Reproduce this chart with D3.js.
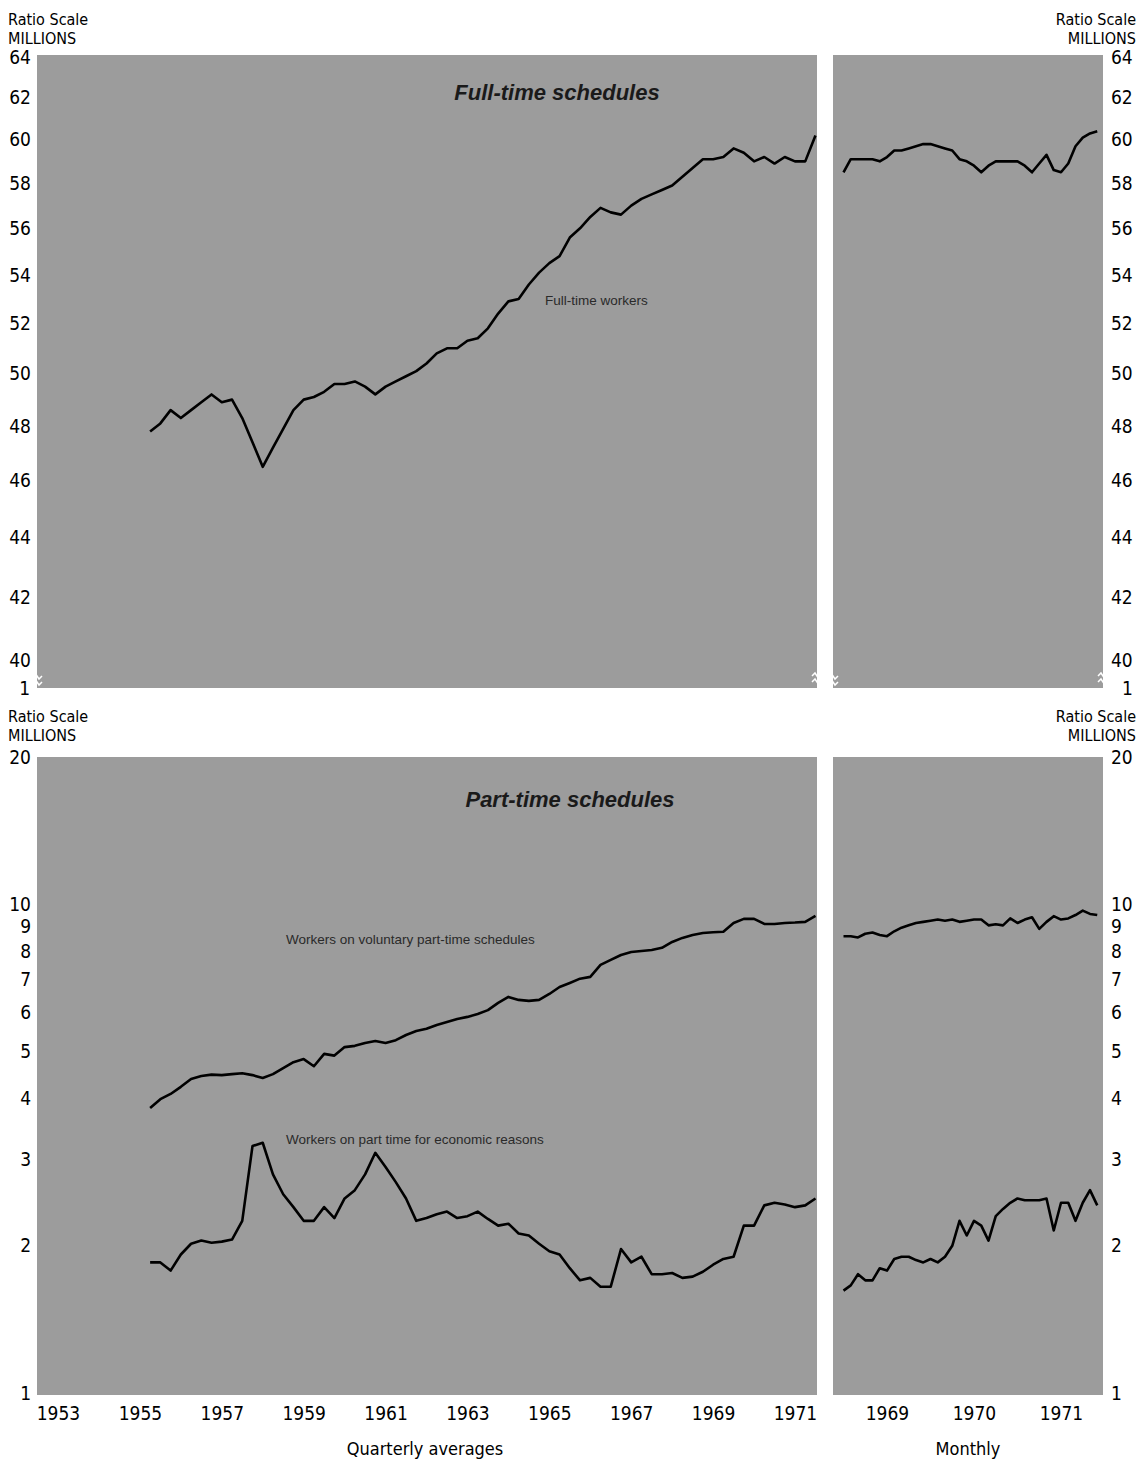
<!DOCTYPE html>
<meta charset="utf-8">
<style>
body { margin: 0; background: #fff; }
svg { display: block; font-family: "Liberation Sans Narrow", "DejaVu Sans Condensed", "Liberation Sans", sans-serif; }
.panel { fill: #9c9c9c; }
.line { fill: none; stroke: #000; stroke-width: 2.6px; stroke-linejoin: round; }
.axis path { display: none; }
.axis text { font-size: 19px; fill: #000; font-family: "Liberation Sans Narrow", "DejaVu Sans Condensed", sans-serif; }
.unit { font-size: 16px; fill: #000; }
.title { font-family: "Liberation Sans", Arial, sans-serif; font-size: 22px; font-weight: bold; font-style: italic; fill: #1a1a1a; }
.serieslabel { font-family: "Liberation Sans", Arial, sans-serif; font-size: 13.5px; fill: #2a2a2a; }
</style>
<svg width="1142" height="1465"></svg>
<script src="https://d3js.org/d3.v7.min.js"></script>
<script>
// quarterly series start 1955 Q2, monthly series start mid 1968
var quarterStart = 1955.25,
    monthStart = 1968.5;

var fullTimeQ = [47.8,48.1,48.6,48.3,48.6,48.9,49.2,48.9,49.0,48.3,
  47.4,46.5,47.2,47.9,48.6,49.0,49.1,49.3,49.6,49.6,
  49.7,49.5,49.2,49.5,49.7,49.9,50.1,50.4,50.8,51.0,
  51.0,51.3,51.4,51.8,52.4,52.9,53.0,53.6,54.1,54.5,
  54.8,55.6,56.0,56.5,56.9,56.7,56.6,57.0,57.3,57.5,
  57.7,57.9,58.3,58.7,59.1,59.1,59.2,59.6,59.4,59.0,
  59.2,58.9,59.2,59.0,59.0,60.2];
var fullTimeM = [58.5,59.1,59.1,59.1,59.1,59.0,59.2,59.5,59.5,59.6,
  59.7,59.8,59.8,59.7,59.6,59.5,59.1,59.0,58.8,58.5,
  58.8,59.0,59.0,59.0,59.0,58.8,58.5,58.9,59.3,58.6,
  58.5,58.9,59.7,60.1,60.3,60.4];
var voluntaryQ = [3.83,3.99,4.09,4.23,4.39,4.45,4.48,4.47,4.49,4.51,
  4.47,4.41,4.49,4.62,4.75,4.82,4.66,4.94,4.90,5.10,
  5.13,5.20,5.25,5.20,5.27,5.40,5.50,5.56,5.66,5.74,
  5.82,5.88,5.96,6.07,6.28,6.46,6.37,6.34,6.37,6.55,
  6.77,6.90,7.04,7.10,7.51,7.69,7.87,7.98,8.02,8.06,
  8.14,8.37,8.53,8.65,8.73,8.76,8.78,9.15,9.33,9.33,
  9.11,9.11,9.15,9.17,9.20,9.46];
var voluntaryM = [8.6,8.6,8.55,8.7,8.75,8.65,8.6,8.8,8.95,9.05,
  9.15,9.2,9.25,9.3,9.25,9.3,9.2,9.25,9.3,9.3,
  9.05,9.1,9.05,9.35,9.15,9.3,9.4,8.9,9.2,9.45,
  9.3,9.35,9.5,9.7,9.55,9.5];
var economicQ = [1.85,1.85,1.78,1.92,2.02,2.05,2.03,2.04,2.06,2.25,
  3.2,3.25,2.8,2.55,2.4,2.25,2.25,2.4,2.28,2.5,
  2.6,2.8,3.1,2.9,2.7,2.5,2.25,2.28,2.32,2.35,
  2.28,2.3,2.35,2.27,2.2,2.22,2.12,2.1,2.02,1.95,
  1.92,1.8,1.7,1.72,1.65,1.65,1.97,1.85,1.9,1.75,
  1.75,1.76,1.72,1.73,1.77,1.83,1.88,1.9,2.2,2.2,
  2.42,2.45,2.43,2.4,2.42,2.5];
var economicM = [1.62,1.66,1.75,1.7,1.7,1.8,1.78,1.88,1.9,1.9,
  1.87,1.85,1.88,1.85,1.9,2.0,2.25,2.1,2.25,2.2,
  2.05,2.3,2.38,2.45,2.5,2.48,2.48,2.48,2.5,2.15,
  2.45,2.45,2.25,2.45,2.6,2.42];

var topTicks = [40,42,44,46,48,50,52,54,56,58,60,62,64];
var bottomTicks = [1,2,3,4,5,6,7,8,9,10,20];
var quarterYears = [1953,1955,1957,1959,1961,1963,1965,1967,1969,1971];
var monthYears = [1969,1970,1971];

function quarterly(vals) {
  return vals.map(function(v, i) { return {t: quarterStart + i * 0.25, v: v}; });
}
function monthly(vals) {
  return vals.map(function(v, i) { return {t: monthStart + i / 12, v: v}; });
}

var svg = d3.select("svg");

var leftP = {x0: 37, x1: 817},
    rightP = {x0: 833, x1: 1103},
    topP = {y0: 55, y1: 688},
    botP = {y0: 757, y1: 1395};

var xQ = d3.scaleLinear().domain([1953, 1971]).range([58, 795]);
var xM = d3.scaleLinear().domain([1969, 1971]).range([887, 1061]);
var yTop = d3.scaleLog().domain([40, 64]).range([660, 57]);
var yBot = d3.scaleLog().domain([1, 20]).range([1393, 757]);

// panels
[[leftP, topP], [rightP, topP], [leftP, botP], [rightP, botP]].forEach(function(p) {
  svg.append("rect")
      .attr("class", "panel")
      .attr("x", p[0].x0)
      .attr("y", p[1].y0)
      .attr("width", p[0].x1 - p[0].x0)
      .attr("height", p[1].y1 - p[1].y0);
});

// scale break marks on the top panels
[leftP.x0, leftP.x1, rightP.x0, rightP.x1].forEach(function(bx) {
  svg.append("path")
      .attr("d", "M" + (bx - 5) + ",676 l3,-3 l4,6 l3,-3 M" + (bx - 5) + ",682 l3,-3 l4,6 l3,-3")
      .attr("fill", "none")
      .attr("stroke", "#fff")
      .attr("stroke-width", 1.5);
});

// y axes
function yAxes(scale, ticks, fmt) {
  svg.append("g")
      .attr("class", "axis")
      .attr("transform", "translate(" + leftP.x0 + ",0)")
      .call(d3.axisLeft(scale).tickValues(ticks).tickFormat(fmt).tickSize(0).tickPadding(6));
  svg.append("g")
      .attr("class", "axis")
      .attr("transform", "translate(" + rightP.x1 + ",0)")
      .call(d3.axisRight(scale).tickValues(ticks).tickFormat(fmt).tickSize(0).tickPadding(8));
}
yAxes(yTop, topTicks, d3.format("d"));
yAxes(yBot, bottomTicks, d3.format("d"));

// the "1" under the broken top scale
svg.append("text").attr("class", "axis").attr("x", 30).attr("y", topP.y1 + 7)
    .attr("text-anchor", "end").style("font-size", "19px").text("1");
svg.append("text").attr("class", "axis").attr("x", 1122).attr("y", topP.y1 + 7)
    .attr("text-anchor", "start").style("font-size", "19px").text("1");

// unit labels
function units(yy) {
  svg.append("text").attr("class", "unit").attr("x", 8).attr("y", yy).text("Ratio Scale");
  svg.append("text").attr("class", "unit").attr("x", 8).attr("y", yy + 19).text("MILLIONS");
  svg.append("text").attr("class", "unit").attr("x", 1136).attr("y", yy).attr("text-anchor", "end").text("Ratio Scale");
  svg.append("text").attr("class", "unit").attr("x", 1136).attr("y", yy + 19).attr("text-anchor", "end").text("MILLIONS");
}
units(25);
units(722);

// x axes
svg.append("g")
    .attr("class", "axis")
    .attr("transform", "translate(0," + botP.y1 + ")")
    .call(d3.axisBottom(xQ).tickValues(quarterYears).tickFormat(d3.format("d")).tickSize(0).tickPadding(12));
svg.append("g")
    .attr("class", "axis")
    .attr("transform", "translate(0," + botP.y1 + ")")
    .call(d3.axisBottom(xM).tickValues(monthYears).tickFormat(d3.format("d")).tickSize(0).tickPadding(12));

svg.append("text").attr("class", "unit").attr("x", 425).attr("y", 1455)
    .attr("text-anchor", "middle").style("font-size", "18px").text("Quarterly averages");
svg.append("text").attr("class", "unit").attr("x", 968).attr("y", 1455)
    .attr("text-anchor", "middle").style("font-size", "18px").text("Monthly");

// lines
function drawLine(data, x, y) {
  var line = d3.line()
      .x(function(d) { return x(d.t); })
      .y(function(d) { return y(d.v); });
  svg.append("path")
      .datum(data)
      .attr("class", "line")
      .attr("d", line);
}
drawLine(quarterly(fullTimeQ), xQ, yTop);
drawLine(monthly(fullTimeM), xM, yTop);
drawLine(quarterly(voluntaryQ), xQ, yBot);
drawLine(monthly(voluntaryM), xM, yBot);
drawLine(quarterly(economicQ), xQ, yBot);
drawLine(monthly(economicM), xM, yBot);

// titles and series labels
svg.append("text").attr("class", "title").attr("x", 557).attr("y", 100)
    .attr("text-anchor", "middle").text("Full-time schedules");
svg.append("text").attr("class", "title").attr("x", 570).attr("y", 807)
    .attr("text-anchor", "middle").text("Part-time schedules");
svg.append("text").attr("class", "serieslabel").attr("x", 545).attr("y", 305).text("Full-time workers");
svg.append("text").attr("class", "serieslabel").attr("x", 286).attr("y", 944).text("Workers on voluntary part-time schedules");
svg.append("text").attr("class", "serieslabel").attr("x", 286).attr("y", 1144).text("Workers on part time for economic reasons");
</script>
